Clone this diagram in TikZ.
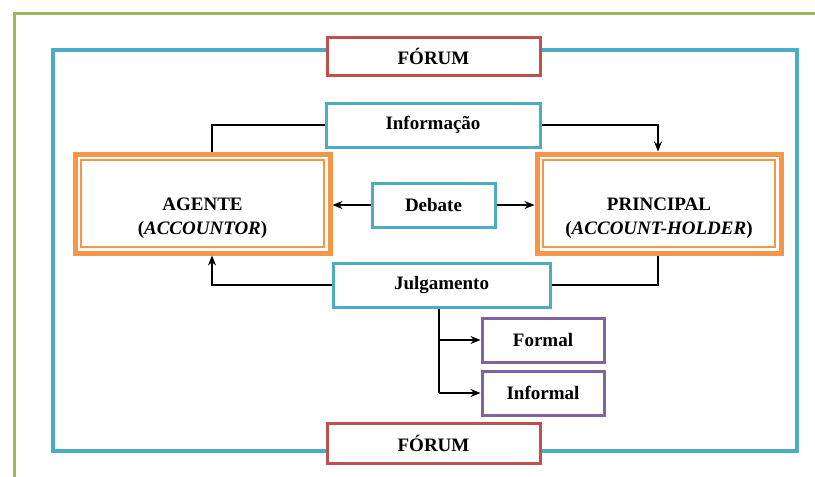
\documentclass[tikz,border=0pt]{standalone}
\usepackage{fontspec}
\setmainfont{Liberation Serif}
\usetikzlibrary{arrows.meta}
\definecolor{frameGreen}{HTML}{9BBB59}
\definecolor{forumBlue}{HTML}{4BACC6}
\definecolor{forumRed}{HTML}{C0504D}
\definecolor{actorOrange}{HTML}{F79646}
\definecolor{typePurple}{HTML}{8064A2}
\tikzset{
  label text/.style={font=\fontsize{19}{24}\selectfont\bfseries, align=center, inner sep=0pt},
  box/.style={draw, line width=3pt, fill=white, inner sep=0pt, label text},
  redbox/.style={box, draw=forumRed},
  bluebox/.style={box, draw=forumBlue},
  purplebox/.style={box, draw=typePurple},
  actor/.style={box, draw=actorOrange, line width=5pt},
  actor inner/.style={draw=actorOrange, line width=1.4pt, inner sep=0pt},
  link/.style={line width=1.4pt, black},
  arr/.style={link, -{Stealth[length=10pt,width=8pt]}}
}
\begin{document}
\begin{tikzpicture}[x=1pt,y=-1pt]
\useasboundingbox (0,0) rectangle (815,477);
\fill[white] (0,0) rectangle (815,477);

% outer frames
\draw[frameGreen, line width=3pt] (14,477) -- (14,13) -- (815,13);
\draw[forumBlue, line width=3.5pt] (53,50) rectangle (797,451);

% boxes
\node[redbox, minimum width=213pt, minimum height=38pt] (forumT) at (433.5,56) {FÓRUM};
\node[redbox, minimum width=213pt, minimum height=40pt] (forumB) at (433.5,443) {FÓRUM};
\node[bluebox, minimum width=214pt, minimum height=44pt] (info) at (433,125) {Informação};
\node[bluebox, minimum width=123pt, minimum height=44pt] (debate) at (433.5,205) {Debate};
\node[bluebox, minimum width=217pt, minimum height=44pt] (julg) at (441.5,285) {Julgamento};
\node[purplebox, minimum width=122pt, minimum height=44pt] (formal) at (543,340) {Formal};
\node[purplebox, minimum width=122pt, minimum height=44pt] (informal) at (543,393) {Informal};

% agent and principal: thick frame with a thin inner rule
\node[actor, minimum width=255pt, minimum height=99pt] (agente) at (202.5,203.5) {};
\node[actor, minimum width=244pt, minimum height=99pt] (principal) at (659,203.5) {};
\node[actor inner, minimum width=243pt, minimum height=87pt] (agenteIn) at (agente.center) {};
\node[actor inner, minimum width=232pt, minimum height=87pt] (principalIn) at (principal.center) {};
\node[label text] (agenteTxt) at (202.5,218) {AGENTE\\(\textit{ACCOUNTOR})};
\node[label text] (principalTxt) at (659,218) {PRINCIPAL\\(\textit{ACCOUNT-HOLDER})};

% connectors
\coordinate (aTop) at (212,0);
\coordinate (pTop) at (658,0);
\draw[link] (info.west) -| (aTop |- agente.north);
\draw[arr] (info.east) -| (pTop |- principal.north);
\draw[arr] (debate.west) -- (agente.east |- debate.west);
\draw[arr] (debate.east) -- (principal.west |- debate.east);
\draw[arr] (julg.west) -| (aTop |- agente.south);
\draw[link] (pTop |- principal.south) |- (julg.east);
\coordinate (jBranch) at (439,0);
\draw[link] (jBranch |- julg.south) -- (jBranch |- informal.west);
\draw[arr] (jBranch |- formal.west) -- (formal.west);
\draw[arr] (jBranch |- informal.west) -- (informal.west);
\end{tikzpicture}
\end{document}
